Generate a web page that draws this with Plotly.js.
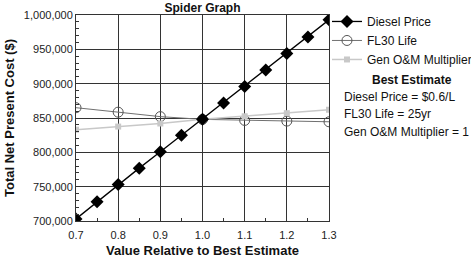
<!DOCTYPE html>
<html><head><meta charset="utf-8">
<script src="https://cdn.plot.ly/plotly-3.0.1.min.js"></script>
<style>html,body{margin:0;padding:0;background:#fff}</style>
</head><body><div id="chart" style="width:471px;height:258px"></div>
<script>
const dieselX = [0.7,0.75,0.8,0.85,0.9,0.95,1.0,1.05,1.1,1.15,1.2,1.25,1.3];
const dieselY = [703000,728000,753000,777000,801000,825000,848000,872000,896000,920000,944000,968000,993000];
const lifeX = [0.7,0.8,0.9,1.0,1.1,1.2,1.3];
const lifeY = [865000,858500,852000,848000,846500,845500,844500];
const omX = [0.7,0.8,0.9,1.0,1.1,1.2,1.3];
const omY = [833000,837500,842000,848000,852500,857000,862000];
const seriesNames = ["Diesel Price","FL30 Life","Gen O&M Multiplier"];
const bestTitle = "Best Estimate";
const bestLines = ["Diesel Price = $0.6/L","FL30 Life = 25yr","Gen O&M Multiplier = 1"];
const xTicks = [0.7,0.8,0.9,1.0,1.1,1.2,1.3];
const xTickText = ["0.7","0.8","0.9","1.0","1.1","1.2","1.3"];
const yTicks = [700000,750000,800000,850000,900000,950000,1000000];
const yTickText = ["700,000","750,000","800,000","850,000","900,000","950,000","1,000,000"];

const F = "Liberation Sans, Arial, sans-serif";
const traces = [
 {x:lifeX,y:lifeY,name:seriesNames[1],mode:"lines+markers",line:{color:"#707070",width:1},legendrank:2,
  marker:{symbol:"circle-open",size:10,color:"#555",line:{width:1,color:"#555"}}},
 {x:omX,y:omY,name:seriesNames[2],mode:"lines+markers",line:{color:"#c8c8c8",width:1.5},legendrank:3,
  marker:{symbol:"square",size:6,color:"#c8c8c8"}},
 {x:dieselX,y:dieselY,name:seriesNames[0],mode:"lines+markers",line:{color:"#000",width:1.3},legendrank:1,
  marker:{symbol:"diamond",size:10,color:"#000"}}
];
const ann = [{xref:"paper",yref:"paper",x:1.33,y:0.685,xanchor:"center",yanchor:"middle",showarrow:false,
  text:"<b>"+bestTitle+"</b>",font:{family:F,size:12,color:"#111"}}];
bestLines.forEach((t,i)=>ann.push({xref:"paper",yref:"paper",x:1.052,y:0.6-i*0.083,xanchor:"left",yanchor:"middle",
  showarrow:false,text:t,font:{family:F,size:12,color:"#111"}}));
const layout = {
 width:471,height:258,margin:{l:76,r:142,t:15,b:37,autoexpand:false},
 paper_bgcolor:"#fff",plot_bgcolor:"#fff",
 font:{family:F,size:11,color:"#222"},
 title:{text:"<b>Spider Graph</b>",x:0.43,xanchor:"center",y:0.985,yanchor:"top",font:{family:F,size:12,color:"#111"}},
 xaxis:{range:[0.7,1.3],tickvals:xTicks,ticktext:xTickText,showgrid:true,gridcolor:"#333",gridwidth:1,
  showline:true,linecolor:"#333",mirror:true,ticks:"inside",ticklen:4,tickcolor:"#333",zeroline:false,
  minor:{dtick:0.05,ticks:"inside",ticklen:3,tickcolor:"#333",showgrid:false},
  tickfont:{family:F,size:11,color:"#222"},ticklabelstandoff:4,automargin:false,
  title:{text:"<b>Value Relative to Best Estimate</b>",font:{family:F,size:13,color:"#111"},standoff:6}},
 yaxis:{range:[700000,1000000],tickvals:yTicks,ticktext:yTickText,showgrid:true,gridcolor:"#333",gridwidth:1,
  showline:true,linecolor:"#333",mirror:true,ticks:"inside",ticklen:4,tickcolor:"#333",zeroline:false,
  minor:{dtick:10000,ticks:"inside",ticklen:3,tickcolor:"#333",showgrid:false},
  tickfont:{family:F,size:11,color:"#222"},automargin:false,
  title:{text:"<b>Total Net Present Cost ($)</b>",font:{family:F,size:13,color:"#111"},standoff:6}},
 legend:{x:0.992,y:1.039,xanchor:"left",yanchor:"top",traceorder:"normal",itemwidth:30,
  font:{family:F,size:12,color:"#111"},bgcolor:"rgba(0,0,0,0)",tracegroupgap:0},
 annotations:ann,showlegend:true
};
Plotly.newPlot("chart",traces,layout,{displayModeBar:false,staticPlot:true});
</script></body></html>
